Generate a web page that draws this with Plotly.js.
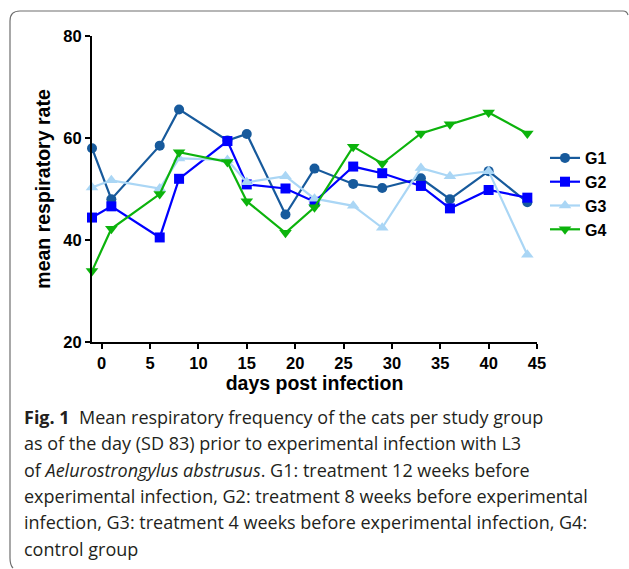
<!DOCTYPE html>
<html>
<head>
<meta charset="utf-8">
<script src="https://cdn.plot.ly/plotly-3.0.1.min.js"></script>
<style>
  html, body { margin: 0; padding: 0; background: #fff; }
  #chart { width: 629px; height: 569px; }
</style>
</head>
<body>
<div id="chart"></div>
<script>
// ---- data ----
const days = [-1, 1, 6, 8, 13, 15, 19, 22, 26, 29, 33, 36, 40, 44];
const g1 = [58.0, 48.0, 58.5, 65.6, 59.5, 60.8, 45.0, 54.0, 51.0, 50.2, 52.1, 48.0, 53.5, 47.4];
const g2 = [44.4, 46.6, 40.5, 52.0, 59.4, 50.9, 50.1, 47.5, 54.4, 53.1, 50.6, 46.2, 49.8, 48.3];
const g3 = [50.3, 51.7, 50.1, 56.0, 55.7, 51.3, 52.5, 48.1, 46.7, 42.4, 54.1, 52.5, 53.5, 37.1];
const g4 = [33.9, 42.2, 49.0, 57.2, 55.3, 47.6, 41.4, 46.4, 58.3, 55.0, 60.9, 62.7, 65.0, 60.9];
const seriesNames = ["G1", "G2", "G3", "G4"];
const xTickVals = [0, 5, 10, 15, 20, 25, 30, 35, 40, 45];
const yTickVals = [20, 40, 60, 80];
const xTitle = "days post infection";
const yTitle = "mean respiratory rate";
const captionLines = [
  "<b>Fig. 1</b>  Mean respiratory frequency of the cats per study group",
  "as of the day (SD 83) prior to experimental infection with L3",
  "of <i>Aelurostrongylus abstrusus</i>. G1: treatment 12 weeks before",
  "experimental infection, G2: treatment 8 weeks before experimental",
  "infection, G3: treatment 4 weeks before experimental infection, G4:",
  "control group"
];

// ---- layout geometry ----
const W = 629, H = 569;
const M = { l: 92, r: 92, t: 36, b: 227 };
const PW = W - M.l - M.r, PH = H - M.t - M.b;
const px = x => (x - M.l) / PW;
const py = y => (H - M.b - y) / PH;

const styles = [
  { color: "#175a9c", symbol: "circle", size: 10 },
  { color: "#0000ff", symbol: "square", size: 10 },
  { color: "#aad6f5", symbol: "triangle-up", size: 11 },
  { color: "#0cb30c", symbol: "triangle-down", size: 11 }
];
const values = [g1, g2, g3, g4];

const traces = values.map((v, i) => ({
  type: "scatter",
  mode: "lines+markers",
  name: seriesNames[i],
  x: days,
  y: v,
  cliponaxis: false,
  line: { color: styles[i].color, width: 2.2 },
  marker: { color: styles[i].color, symbol: styles[i].symbol, size: styles[i].size }
}));

const axisFont = { family: "Liberation Sans, Arial, sans-serif", size: 16.5, color: "#000", weight: "bold" };
const titleFont = { family: "Liberation Sans, Arial, sans-serif", size: 19.5, color: "#000", weight: "bold" };

const captionYs = [417, 443.3, 469.6, 496, 522.3, 548.6];
const annotations = captionLines.map((t, i) => ({
  xref: "paper", yref: "paper",
  x: px(22), y: py(captionYs[i]),
  xanchor: "left", yanchor: "middle",
  text: t, showarrow: false, align: "left",
  font: { family: "Open Sans, Noto Sans, sans-serif", size: 18, color: "#231f20" }
}));

// rounded frame (left, top, right edges)
const fx0 = 10, fy0 = 11, fx1 = 627, fyB = 568, rr = 10;
const framePath =
  `M ${px(fx0 + 3)},${py(fyB)} Q ${px(fx0)},${py(fyB - 3)} ${px(fx0)},${py(fyB - 10)} ` +
  `L ${px(fx0)},${py(fy0 + rr)} Q ${px(fx0)},${py(fy0)} ${px(fx0 + rr)},${py(fy0)} ` +
  `L ${px(fx1 - 4)},${py(fy0)} Q ${px(fx1)},${py(fy0)} ${px(fx1 + 1)},${py(fy0 + 4)}`;

const layout = {
  width: W, height: H,
  margin: M,
  paper_bgcolor: "#fff",
  plot_bgcolor: "#fff",
  showlegend: true,
  legend: {
    x: px(545), y: py(141), xanchor: "left", yanchor: "top",
    font: { family: "Liberation Sans, Arial, sans-serif", size: 16, color: "#000", weight: "bold" },
    bgcolor: "rgba(0,0,0,0)", borderwidth: 0, itemwidth: 30, tracegroupgap: 0
  },
  xaxis: {
    range: [-1, 45],
    tickvals: xTickVals,
    ticktext: xTickVals.map(String),
    showgrid: false, zeroline: false,
    showline: true, linecolor: "#000", linewidth: 2,
    ticks: "outside", ticklen: 5, tickwidth: 2, tickcolor: "#000",
    tickfont: axisFont,
    title: { text: xTitle, font: titleFont, standoff: 6 },
    automargin: false
  },
  yaxis: {
    range: [20, 80],
    tickvals: yTickVals,
    ticktext: yTickVals.map(String),
    showgrid: false, zeroline: false,
    showline: true, linecolor: "#000", linewidth: 2,
    ticks: "outside", ticklen: 5, tickwidth: 2, tickcolor: "#000",
    tickfont: axisFont,
    title: { text: yTitle, font: titleFont, standoff: 8 },
    automargin: false
  },
  annotations: annotations,
  shapes: [{
    type: "path", xref: "paper", yref: "paper",
    path: framePath,
    line: { color: "#6e6e6e", width: 1.2 }
  }]
};

Plotly.newPlot("chart", traces, layout, { displayModeBar: false, staticPlot: true });
</script>
</body>
</html>
